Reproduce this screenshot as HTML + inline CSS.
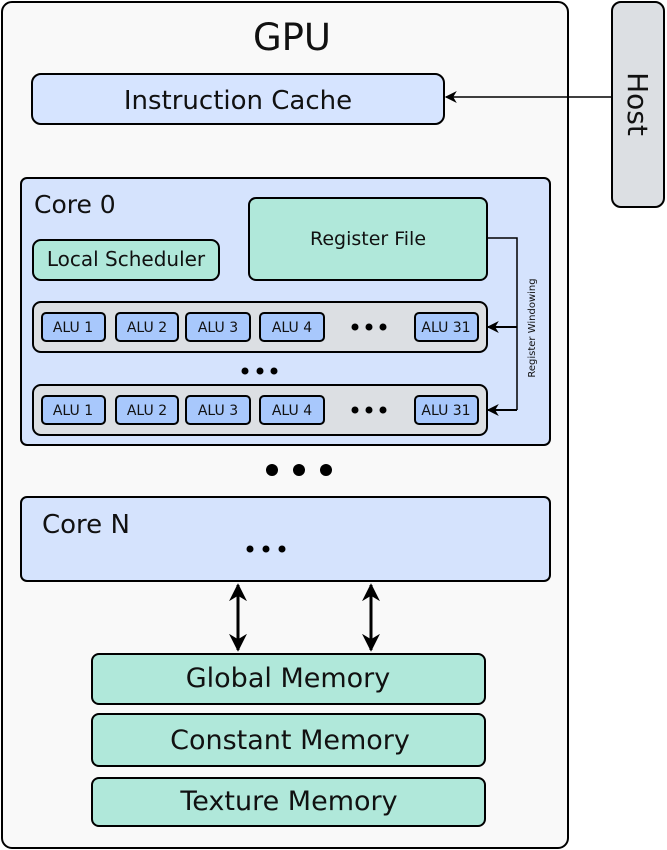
<!DOCTYPE html><html><head><style>body{margin:0;background:#fff}svg{display:block}text{font-family:"DejaVu Sans","Liberation Sans",sans-serif;fill:#111}</style></head><body>
<svg width="667" height="850" viewBox="0 0 667 850" xmlns="http://www.w3.org/2000/svg">
<defs><marker id="a" viewBox="0 0 10 10" refX="9" refY="5" markerWidth="6" markerHeight="6" orient="auto-start-reverse"><path d="M0,0 L10,5 L0,10 L3,5z" fill="#000"/></marker>
<marker id="b" viewBox="0 0 10 10" refX="9" refY="5" markerWidth="12" markerHeight="12" markerUnits="userSpaceOnUse" orient="auto-start-reverse"><path d="M0,0 L10,5 L0,10 L3,5z" fill="#000"/></marker></defs>
<g stroke="#000" stroke-width="2">
<rect x="2" y="2" width="566" height="846" rx="10" fill="#f9f9f9"/>
<rect x="612" y="2" width="52" height="205" rx="9" fill="#dcdfe3"/>
<rect x="32" y="74" width="412" height="50" rx="9" fill="#d6e4ff"/>
<rect x="21" y="178" width="529" height="267" rx="6" fill="#d5e3fd"/>
<rect x="249" y="198" width="238" height="82" rx="7" fill="#b0e8da"/>
<rect x="33" y="240" width="186" height="40" rx="8" fill="#b0e8da"/>
<rect x="33" y="302" width="454" height="50" rx="8" fill="#dcdfe3"/>
<rect x="33" y="385" width="454" height="50" rx="8" fill="#dcdfe3"/>
<rect x="21" y="497" width="529" height="84" rx="6" fill="#d5e3fd"/>
<rect x="92" y="654" width="393" height="50" rx="7" fill="#b0e8da"/>
<rect x="92" y="714" width="393" height="52" rx="7" fill="#b0e8da"/>
<rect x="92" y="778" width="393" height="48" rx="7" fill="#b0e8da"/>
</g>
<g stroke="#000" stroke-width="2" fill="#a8c8fc">
<rect x="42" y="313" width="63" height="28" rx="4"/><rect x="116" y="313" width="62" height="28" rx="4"/><rect x="186" y="313" width="64" height="28" rx="4"/><rect x="260" y="313" width="64" height="28" rx="4"/><rect x="415" y="313" width="63" height="28" rx="4"/>
<rect x="42" y="396" width="63" height="28" rx="4"/><rect x="116" y="396" width="62" height="28" rx="4"/><rect x="186" y="396" width="64" height="28" rx="4"/><rect x="260" y="396" width="64" height="28" rx="4"/><rect x="415" y="396" width="63" height="28" rx="4"/>
</g>
<g fill="none" stroke="#000">
<line x1="612" y1="97" x2="446" y2="97" stroke-width="1.5" marker-end="url(#b)"/>
<polyline points="487,238 517,238 517,410" stroke-width="1.5"/>
<line x1="517" y1="327" x2="488" y2="327" stroke-width="2" marker-end="url(#b)"/>
<line x1="517" y1="410" x2="488" y2="410" stroke-width="2" marker-end="url(#b)"/>
<line x1="238" y1="585" x2="238" y2="650" stroke-width="3" marker-start="url(#a)" marker-end="url(#a)"/>
<line x1="371" y1="585" x2="371" y2="650" stroke-width="3" marker-start="url(#a)" marker-end="url(#a)"/>
</g>
<g fill="#000">
<circle cx="355" cy="327" r="3.5"/><circle cx="369" cy="327" r="3.5"/><circle cx="383" cy="327" r="3.5"/>
<circle cx="355" cy="410" r="3.5"/><circle cx="369" cy="410" r="3.5"/><circle cx="383" cy="410" r="3.5"/>
<circle cx="245" cy="371" r="3.5"/><circle cx="260" cy="371" r="3.5"/><circle cx="274" cy="371" r="3.5"/>
<circle cx="272" cy="470" r="6"/><circle cx="299" cy="470" r="6"/><circle cx="326" cy="470" r="6"/>
<circle cx="250" cy="549" r="3.5"/><circle cx="266" cy="549" r="3.5"/><circle cx="282" cy="549" r="3.5"/>
</g>
<text x="292" y="50" font-size="37" text-anchor="middle">GPU</text>
<text x="238" y="109" font-size="26" text-anchor="middle">Instruction Cache</text>
<text transform="translate(628,104) rotate(90)" font-size="28" text-anchor="middle">Host</text>
<text x="34" y="213" font-size="25">Core 0</text>
<text x="368" y="245" font-size="19" text-anchor="middle">Register File</text>
<text x="126" y="266" font-size="20" text-anchor="middle">Local Scheduler</text>
<text transform="translate(535,328) rotate(-90)" font-size="10" text-anchor="middle">Register Windowing</text>
<g font-size="14" text-anchor="middle">
<text x="73" y="332">ALU 1</text><text x="147" y="332">ALU 2</text><text x="218" y="332">ALU 3</text><text x="292" y="332">ALU 4</text><text x="446" y="332">ALU 31</text>
<text x="73" y="415">ALU 1</text><text x="147" y="415">ALU 2</text><text x="218" y="415">ALU 3</text><text x="292" y="415">ALU 4</text><text x="446" y="415">ALU 31</text>
</g>
<text x="42" y="533" font-size="26">Core N</text>
<g font-size="27" text-anchor="middle">
<text x="288" y="687">Global Memory</text>
<text x="290" y="749">Constant Memory</text>
<text x="289" y="810">Texture Memory</text>
</g>
</svg></body></html>
